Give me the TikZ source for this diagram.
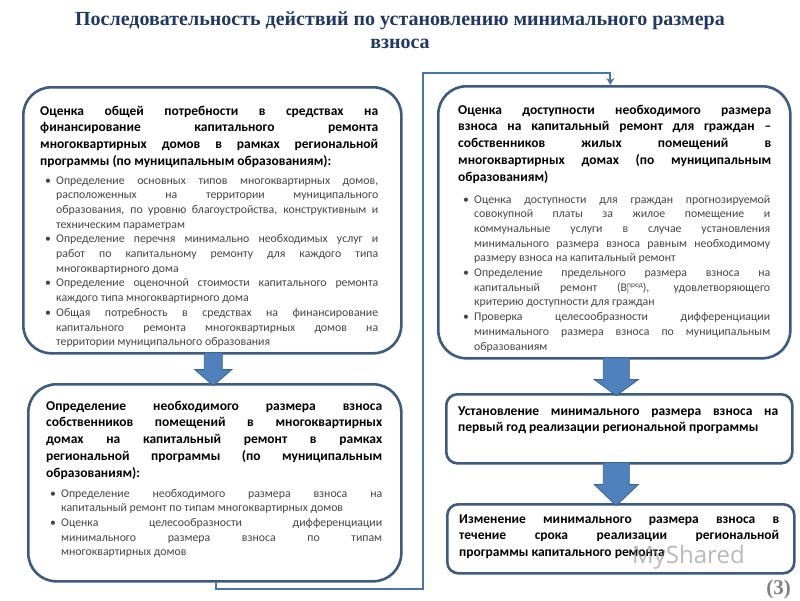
\documentclass[tikz,border=0pt]{standalone}
\usepackage{fontspec}
\setmainfont{Carlito}
\newfontfamily\titlefont{Liberation Serif}
\newfontfamily\wmfont{Open Sans}
\usetikzlibrary{arrows.meta,calc}
\definecolor{boxline}{HTML}{3D5A80}
\definecolor{titleblue}{HTML}{1F3864}
\definecolor{arrowfill}{HTML}{4F81BD}
\definecolor{arrowline}{HTML}{3A6494}
\definecolor{connline}{HTML}{4A74AD}
\definecolor{bodygray}{HTML}{454545}
\newcommand{\bfirst}{\hangindent=11pt\hangafter=1\noindent\makebox[11pt][l]{\textbullet}}
\newcommand{\bitem}{\par\hangindent=11pt\hangafter=1\noindent\makebox[11pt][l]{\textbullet}}
\newcommand{\blockarrow}[5]{%
  \draw[blockarr] ($(#1)+(-#2,0)$) -- ($(#1)+(-#2,#4)$) -- ($(#1)+(-#3,#4)$) -- ($(#1)+(0,#5)$)
    -- ($(#1)+(#3,#4)$) -- ($(#1)+(#2,#4)$) -- ($(#1)+(#2,0)$) -- cycle;}
\tikzset{
  box/.style={draw=boxline, line width=2.6pt, fill=white, rounded corners=28pt, inner sep=0pt, anchor=north west},
  sbox/.style={box, rounded corners=11pt},
  txt/.style={anchor=base west, inner sep=0pt, align=justify,
    execute at begin node={\tolerance=10000\hyphenpenalty=10000\emergencystretch=0pt}},
  head/.style={txt, text width=#1, text=black, font=\bfseries\fontsize{13.5}{16.9}\selectfont},
  blist/.style={txt, text width=#1, text=bodygray, font=\fontsize{11.8}{14.7}\selectfont},
  blockarr/.style={fill=arrowfill, draw=arrowline, line width=0.8pt, line join=miter},
  conn/.style={draw=connline, line width=2pt, -{Stealth[length=7pt,width=8pt]}},
}
\begin{document}
\begin{tikzpicture}[x=1pt,y=-1pt]
\useasboundingbox (0,0) rectangle (800,600);
\fill[white] (0,0) rectangle (800,600);

% title
\node[anchor=base, inner sep=0pt, text=titleblue, font=\titlefont\bfseries\fontsize{20}{24}\selectfont] (title1) at (400,25)
  {Последовательность действий по установлению минимального размера};
\node[anchor=base, inner sep=0pt, text=titleblue, font=\titlefont\bfseries\fontsize{20}{24}\selectfont] (title2) at (400,48)
  {взноса};

% boxes
\node[box, minimum width=378pt, minimum height=266pt] (b1) at (22,86) {};
\node[box, minimum width=373pt, minimum height=197pt] (b2) at (27,383) {};
\node[box, minimum width=352pt, minimum height=272pt] (b3) at (437,85) {};
\node[sbox, minimum width=346pt, minimum height=69pt] (b4) at (445,393) {};
\node[sbox, minimum width=347pt, minimum height=69pt] (b5) at (446,503) {};

% connector
\coordinate (cbr) at (423,589);
\coordinate (ctl) at (423,73);
\draw[conn] ($(b2.south)+(1.5,0)$) |- (cbr) -- (ctl) -| ($(b3.north)+(-4,0)$);

% block arrows
\coordinate (t1) at ($(b1.south)+(1,-2)$);
\coordinate (t2) at ($(b3.south)+(2,-2)$);
\coordinate (t3) at ($(b4.south)+(-3,-2)$);
\blockarrow{t1}{9}{18.5}{17}{33}
\blockarrow{t2}{13}{22}{22}{38}
\blockarrow{t3}{13}{22}{22}{43}

% left top box text
\node[head=338pt] (h1) at (40,115) {Оценка общей потребности в средствах на\linebreak
финансирование капитального ремонта\linebreak
многоквартирных домов в рамках региональной\linebreak
программы (по муниципальным образованиям):};
\node[blist=333pt] (l1) at (45,184) {\bfirst Определение основных типов многоквартирных домов,\linebreak
расположенных на территории муниципального\linebreak
образования, по уровню благоустройства, конструктивным и\linebreak
техническим параметрам
\bitem Определение перечня минимально необходимых услуг и\linebreak
работ по капитальному ремонту для каждого типа\linebreak
многоквартирного дома
\bitem Определение оценочной стоимости капитального ремонта\linebreak
каждого типа многоквартирного дома
\bitem Общая потребность в средствах на финансирование\linebreak
капитального ремонта многоквартирных домов на\linebreak
территории муниципального образования\par};

% right top box text
\node[head=313pt] (h3) at (458,114) {Оценка доступности необходимого размера\linebreak
взноса на капитальный ремонт для граждан –\linebreak
собственников жилых помещений в\linebreak
многоквартирных домах (по муниципальным\linebreak
образованиям)};
\node[blist=307pt] (l3) at (463,203) {\bfirst Оценка доступности для граждан прогнозируемой\linebreak
совокупной платы за жилое помещение и\linebreak
коммунальные услуги в случае установления\linebreak
минимального размера взноса равным необходимому\linebreak
размеру взноса на капитальный ремонт
\bitem Определение предельного размера взноса на\linebreak
капитальный ремонт (B\rlap{\raisebox{-1.5pt}{\fontsize{7}{8}\selectfont j}}\raisebox{4pt}{\fontsize{7.5}{8}\selectfont пред}), удовлетворяющего\linebreak
критерию доступности для граждан
\bitem Проверка целесообразности дифференциации\linebreak
минимального размера взноса по муниципальным\linebreak
образованиям\par};

% left bottom box text
\node[head=336pt] (h2) at (46,410) {Определение необходимого размера взноса\linebreak
собственников помещений в многоквартирных\linebreak
домах на капитальный ремонт в рамках\linebreak
региональной программы (по муниципальным\linebreak
образованиям):};
\node[blist=332pt] (l2) at (50,497) {\bfirst Определение необходимого размера взноса на\linebreak
капитальный ремонт по типам многоквартирных домов
\bitem Оценка целесообразности дифференциации\linebreak
минимального размера взноса по типам\linebreak
многоквартирных домов\par};

% right middle and bottom
\node[head=320pt] (h4) at (458,415) {Установление минимального размера взноса на\linebreak
первый год реализации региональной программы};
\node[head=320pt] (h5) at (459,523) {Изменение минимального размера взноса в\linebreak
течение срока реализации региональной\linebreak
программы капитального ремонта};

% watermark and page number
\node[anchor=base west, inner sep=0pt, text=gray, opacity=0.55, font=\wmfont\fontsize{24}{24}\selectfont] (wm) at (632,563) {MyShared};
\node[anchor=base east, inner sep=0pt, text=gray, font=\titlefont\bfseries\fontsize{21}{24}\selectfont] (pg) at (791,594) {(3)};
\end{tikzpicture}
\end{document}
